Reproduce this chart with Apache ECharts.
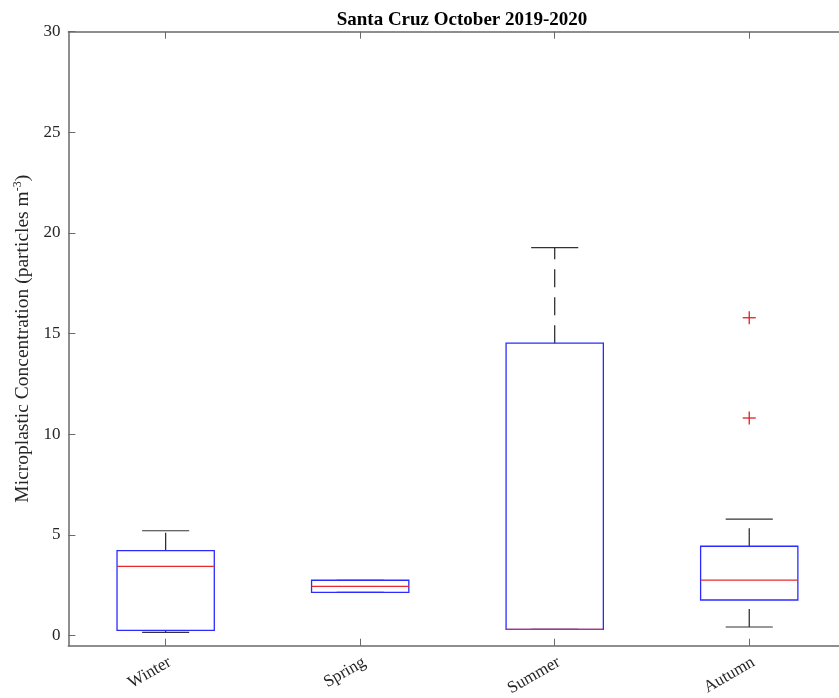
<!DOCTYPE html>
<html>
<head>
<meta charset="utf-8">
<script src="https://cdn.jsdelivr.net/npm/echarts@6/dist/echarts.min.js"></script>
<style>html,body{margin:0;padding:0;background:#fff;}#c{width:839px;height:698px;}</style>
</head>
<body>
<div id="c"></div>
<script>
const categories = ['Winter', 'Spring', 'Summer', 'Autumn'];
const lowerWhisker = [0.16, 2.15, 0.31, 0.43];
const q1Values = [0.26, 2.15, 0.31, 1.77];
const medians = [3.44, 2.45, 0.31, 2.76];
const q3Values = [4.22, 2.75, 14.53, 4.44];
const upperWhisker = [5.21, 2.75, 19.27, 5.79];
const outlierCategory = [3, 3];
const outlierValues = [10.81, 15.79];
const yTicks = [0, 5, 10, 15, 20, 25, 30];

const boxData = categories.map((c, i) => [i, lowerWhisker[i], q1Values[i], medians[i], q3Values[i], upperWhisker[i]]);
const outlierData = outlierValues.map((v, i) => [outlierCategory[i], v]);

const serif = '"Liberation Serif", "DejaVu Serif", serif';
const axisColor = '#6a6a6a';
const textColor = '#262626';

const chart = echarts.init(document.getElementById('c'));
chart.setOption({
  animation: false,
  backgroundColor: '#fff',
  title: {
    text: 'Santa Cruz October 2019-2020',
    left: 457,
    textAlign: 'center',
    top: 6,
    textStyle: { fontFamily: serif, fontWeight: 'bold', fontSize: 19, color: '#000' }
  },
  grid: { left: 68.4, width: 778.1, top: 31.7, height: 614, containLabel: false, outerBoundsMode: 'none' },
  xAxis: [{
    type: 'category',
    data: categories,
    boundaryGap: true,
    axisLine: { show: true, onZero: false, lineStyle: { color: axisColor, width: 1.5 } },
    axisTick: { show: true, inside: true, alignWithLabel: true, length: 7, lineStyle: { color: axisColor, width: 1 } },
    axisLabel: { rotate: 30, margin: 8, verticalAlign: 'top', fontFamily: serif, fontSize: 17, color: textColor, interval: 0 },
    splitLine: { show: false }
  }, {
    type: 'category',
    position: 'top',
    data: categories,
    boundaryGap: true,
    axisLine: { show: true, onZero: false, lineStyle: { color: axisColor, width: 1.5 } },
    axisTick: { show: true, inside: true, alignWithLabel: true, length: 7, lineStyle: { color: axisColor, width: 1 } },
    axisLabel: { show: false },
    splitLine: { show: false }
  }],
  yAxis: {
    type: 'value',
    min: -0.5,
    max: 30,
    axisLine: { show: true, onZero: false, lineStyle: { color: axisColor, width: 1.5 } },
    axisTick: { show: true, inside: true, length: 7, customValues: yTicks, lineStyle: { color: axisColor, width: 1 } },
    axisLabel: {
      fontFamily: serif, fontSize: 17, color: textColor, margin: 8,
      customValues: yTicks
    },
    splitLine: { show: false },
    name: 'Microplastic Concentration (particles m{sup|-3})',
    nameLocation: 'middle',
    nameGap: 29,
    nameTextStyle: {
      fontFamily: serif, fontSize: 19.5, color: textColor,
      rich: { sup: { fontFamily: serif, fontSize: 12, color: textColor, verticalAlign: 'top', padding: [0, 0, 10, 0] } }
    }
  },
  series: [{
    type: 'custom',
    xAxisIndex: 0,
    data: boxData,
    renderItem: function (params, api) {
      const i = api.value(0);
      const band = api.size([1, 0])[0];
      const cx = api.coord([i, 0])[0];
      const yLw = api.coord([i, api.value(1)])[1];
      const yQ1 = api.coord([i, api.value(2)])[1];
      const yMed = api.coord([i, api.value(3)])[1];
      const yQ3 = api.coord([i, api.value(4)])[1];
      const yUw = api.coord([i, api.value(5)])[1];
      const half = band * 0.25;
      const capHalf = band * 0.121;
      const whiskerStyle = { stroke: '#222', lineWidth: 1.2, lineDash: [18, 10] };
      const solid = { stroke: '#333', lineWidth: 1.2 };
      return {
        type: 'group',
        children: [
          { type: 'line', shape: { x1: cx, y1: yLw, x2: cx, y2: yQ1 }, style: whiskerStyle },
          { type: 'line', shape: { x1: cx, y1: yQ3, x2: cx, y2: yUw }, style: whiskerStyle },
          { type: 'line', shape: { x1: cx - capHalf, y1: yLw, x2: cx + capHalf, y2: yLw }, style: solid },
          { type: 'line', shape: { x1: cx - capHalf, y1: yUw, x2: cx + capHalf, y2: yUw }, style: solid },
          { type: 'rect', shape: { x: cx - half, y: yQ3, width: half * 2, height: Math.max(yQ1 - yQ3, 0) },
            style: { fill: 'none', stroke: '#2b2bff', lineWidth: 1.3 } },
          { type: 'line', shape: { x1: cx - half, y1: yMed, x2: cx + half, y2: yMed }, style: { stroke: '#e8282d', lineWidth: 1.2 } }
        ]
      };
    }
  }, {
    type: 'custom',
    xAxisIndex: 0,
    data: outlierData,
    renderItem: function (params, api) {
      const p = api.coord([api.value(0), api.value(1)]);
      const s = 6.5;
      const st = { stroke: '#e02020', lineWidth: 1.3 };
      return {
        type: 'group',
        children: [
          { type: 'line', shape: { x1: p[0] - s, y1: p[1], x2: p[0] + s, y2: p[1] }, style: st },
          { type: 'line', shape: { x1: p[0], y1: p[1] - s, x2: p[0], y2: p[1] + s }, style: st }
        ]
      };
    }
  }]
});
</script>
</body>
</html>
